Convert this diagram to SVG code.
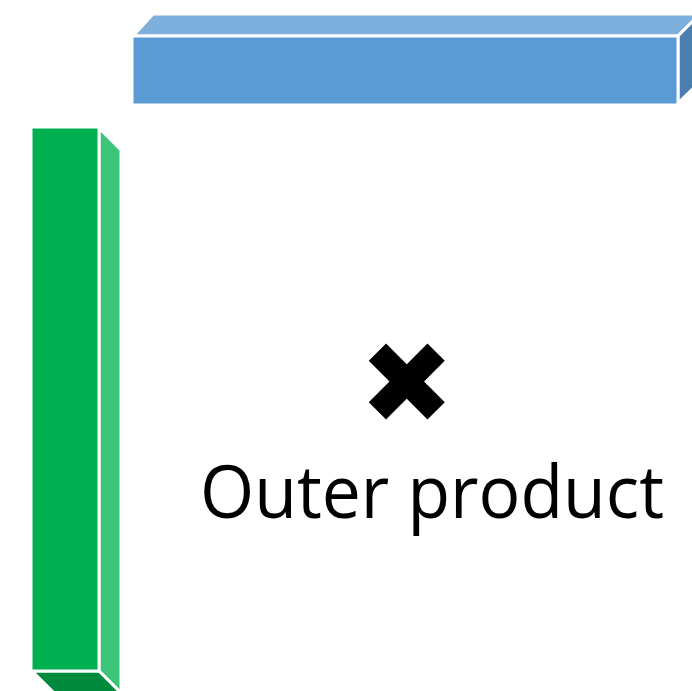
<svg xmlns="http://www.w3.org/2000/svg" width="692" height="691" viewBox="0 0 692 691">
<style>
.f{stroke:#fff;stroke-width:3;stroke-linejoin:miter}
.lbl{font-family:"Open Sans","Liberation Sans",sans-serif;fill:#000}
</style>
<rect width="692" height="691" fill="#fff"/>
<g id="blue-bar">
<polygon class="f" points="133,36 153,14 700,14 678,36" fill="#7eb0de"/>
<polygon class="f" points="678,36 700,14 700,82 678,103" fill="#4a7eb0"/>
<rect class="f" x="132" y="36" width="546" height="69" fill="#5b9bd5"/>
</g>
<g id="green-bar">
<polygon class="f" points="99,128 121,150 121,693 99,671" fill="#3cc479"/>
<polygon class="f" points="32,671 99,671 121,693 54,693" fill="#008a3e"/>
<rect class="f" x="31" y="127" width="68" height="544" fill="#00b050"/>
</g>
<g id="label">
<text class="lbl" x="407" y="423" font-size="114" text-anchor="middle" font-family="DejaVu Sans">✖</text>
<text class="lbl" x="200" y="518" font-size="73" textLength="464" lengthAdjust="spacingAndGlyphs">Outer product</text>
</g>
</svg>
